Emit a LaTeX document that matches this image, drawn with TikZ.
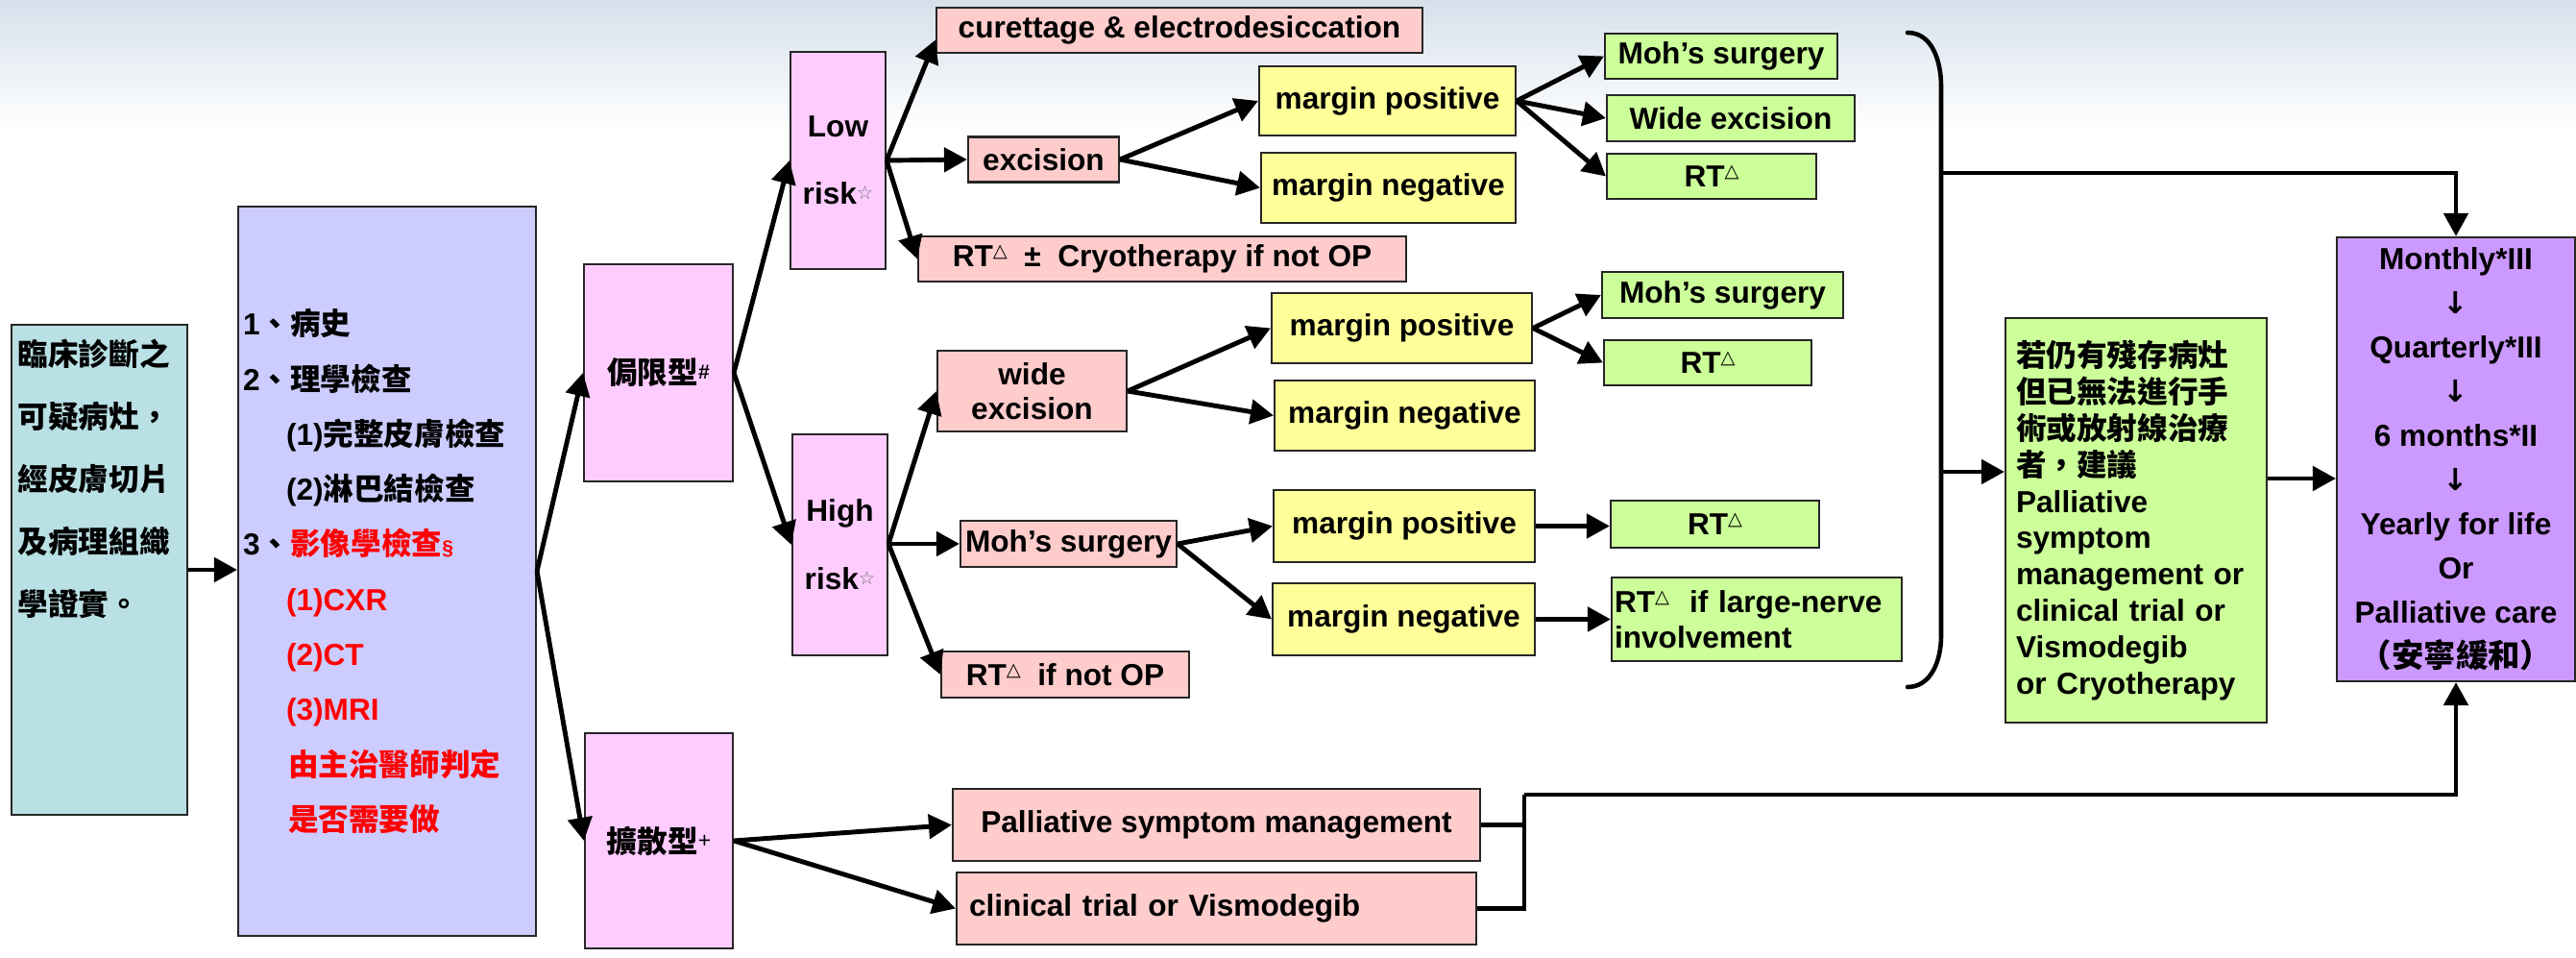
\documentclass[tikz,border=0pt]{standalone}
\usepackage{fontspec}
\setmainfont{Liberation Sans}
\newfontfamily\cjk{Noto Sans CJK TC}
\newfontfamily\dejavu{DejaVu Sans}
\usepackage{xcolor}
\usepackage{tikz}
\usetikzlibrary{calc}
\usetikzlibrary{positioning}
\usetikzlibrary{arrows.meta}

\definecolor{tealbg}{HTML}{B9E0E4}
\definecolor{lavbg}{HTML}{CCCCFF}
\definecolor{pinkbg}{HTML}{FFCCFF}
\definecolor{salmonbg}{HTML}{FFCCCC}
\definecolor{yellowbg}{HTML}{FFFF99}
\definecolor{greenbg}{HTML}{CCFF99}
\definecolor{violetbg}{HTML}{CC99FF}
\definecolor{skybg}{HTML}{D6E0EB}

\newcommand{\zh}[1]{{\cjk #1}}
\newcommand{\tri}{\raisebox{0.6ex}{\dejavu\mdseries\fontsize{5.5}{6}\selectfont △}}
\newcommand{\wstar}{\raisebox{0.3ex}{\textcolor{black!55}{\dejavu\mdseries\fontsize{5.5}{6}\selectfont ☆}}}

\begin{document}
\begin{tikzpicture}[
		box/.style={draw=black!85, line width=0.6pt, rectangle, inner sep=0pt, align=center,
			font=\fontsize{9}{10.8}\selectfont\bfseries},
		arrow/.style={-{Triangle[length=0.24cm,width=0.25cm]}, line width=1.4pt},
		wire/.style={line width=1.4pt},
		brace/.style={line width=1.3pt, line cap=round}
		]
		\useasboundingbox (0,0) rectangle (26.82,-9.97);
		
		% sky at the top
		\shade[top color=skybg, bottom color=white] (0,0) rectangle (26.82,-1.35);
		
		% diagnosis and work-up
		\node[box, fill=tealbg, minimum width=1.83cm, minimum height=5.10cm] (diag) at (1.035,-5.93) {};
		\node[anchor=north west, align=left, inner sep=0pt, font=\fontsize{9}{18.5}\selectfont\bfseries] (diagtext) at (0.18,-3.52)
			{\zh{臨床診斷之}\\\zh{可疑病灶，}\\\zh{經皮膚切片}\\\zh{及病理組織}\\\zh{學證實。}};
		\node[box, fill=lavbg, minimum width=3.10cm, minimum height=7.59cm, text width=3.0cm, inner xsep=0.05cm,
			align=left, font=\fontsize{9}{16.3}\selectfont\bfseries] (exam) at (4.03,-5.945)
			{1\zh{、病史}\\
			 2\zh{、理學檢查}\\
			 \hspace*{0.45cm}(1)\zh{完整皮膚檢查}\\
			 \hspace*{0.45cm}(2)\zh{淋巴結檢查}\\
			 3\zh{、}\textcolor{red}{\zh{影像學檢查}{\fontsize{6}{6}\selectfont§}}\\
			 \hspace*{0.45cm}\textcolor{red}{(1)CXR}\\
			 \hspace*{0.45cm}\textcolor{red}{(2)CT}\\
			 \hspace*{0.45cm}\textcolor{red}{(3)MRI}\\
			 \hspace*{0.47cm}\textcolor{red}{\zh{由主治醫師判定}}\\
			 \hspace*{0.47cm}\textcolor{red}{\zh{是否需要做}}};
		
		% type and risk
		\node[box, fill=pinkbg, minimum width=1.55cm, minimum height=2.26cm] (local) at (6.855,-3.88)
			{\zh{侷限型}\raisebox{0.3ex}{\fontsize{6}{6}\selectfont\#}};
		\node[box, fill=pinkbg, minimum width=1.54cm, minimum height=2.24cm] (diffuse) at (6.86,-8.75)
			{\zh{擴散型}\raisebox{0.3ex}{\mdseries\fontsize{6.5}{6}\selectfont+}};
		\node[box, fill=pinkbg, minimum width=0.99cm, minimum height=2.26cm, font=\fontsize{9}{19.9}\selectfont\bfseries] (low) at (8.725,-1.67)
			{Low\\risk\wstar};
		\node[box, fill=pinkbg, minimum width=0.99cm, minimum height=2.30cm, font=\fontsize{9}{20.2}\selectfont\bfseries] (high) at (8.745,-5.67)
			{High\\risk\wstar};
		
		% low risk branch
		\node[box, fill=salmonbg, minimum width=5.06cm, minimum height=0.47cm] (curet) at (12.28,-0.315) {curettage \& electrodesiccation};
		\node[box, fill=salmonbg, minimum width=1.57cm, minimum height=0.47cm] (exc) at (10.865,-1.66) {excision};
		\node[box, fill=salmonbg, minimum width=5.08cm, minimum height=0.47cm] (rtcryo) at (12.10,-2.695) {RT\tri\ \ ± \ Cryotherapy if not OP};
		\node[box, fill=yellowbg, minimum width=2.67cm, minimum height=0.72cm] (mp1) at (14.445,-1.05) {margin positive};
		\node[box, fill=yellowbg, minimum width=2.65cm, minimum height=0.73cm] (mn1) at (14.455,-1.955) {margin negative};
		\node[box, fill=greenbg, minimum width=2.42cm, minimum height=0.47cm] (moh1) at (17.92,-0.585) {Moh’s surgery};
		\node[box, fill=greenbg, minimum width=2.58cm, minimum height=0.48cm] (wide1) at (18.02,-1.23) {Wide excision};
		\node[box, fill=greenbg, minimum width=2.18cm, minimum height=0.47cm] (rt1) at (17.82,-1.835) {RT\tri};
		
		% high risk branch
		\node[box, fill=salmonbg, minimum width=1.97cm, minimum height=0.84cm, font=\fontsize{9}{10.3}\selectfont\bfseries] (wexc) at (10.745,-4.07) {wide\\excision};
		\node[box, fill=salmonbg, minimum width=2.25cm, minimum height=0.48cm] (moh2) at (11.125,-5.66) {Moh’s surgery};
		\node[box, fill=salmonbg, minimum width=2.58cm, minimum height=0.48cm] (rtnop) at (11.09,-7.02) {RT\tri\ \ if not OP};
		\node[box, fill=yellowbg, minimum width=2.71cm, minimum height=0.73cm] (mp2) at (14.595,-3.415) {margin positive};
		\node[box, fill=yellowbg, minimum width=2.71cm, minimum height=0.73cm] (mn2) at (14.625,-4.325) {margin negative};
		\node[box, fill=greenbg, minimum width=2.51cm, minimum height=0.48cm] (moh3) at (17.935,-3.07) {Moh’s surgery};
		\node[box, fill=greenbg, minimum width=2.16cm, minimum height=0.47cm] (rt2) at (17.78,-3.775) {RT\tri};
		\node[box, fill=yellowbg, minimum width=2.72cm, minimum height=0.75cm] (mp3) at (14.62,-5.475) {margin positive};
		\node[box, fill=yellowbg, minimum width=2.73cm, minimum height=0.75cm] (mn3) at (14.615,-6.445) {margin negative};
		\node[box, fill=greenbg, minimum width=2.17cm, minimum height=0.49cm] (rt3) at (17.855,-5.455) {RT\tri};
		\node[box, fill=greenbg, minimum width=3.02cm, minimum height=0.87cm, text width=2.96cm, inner xsep=0.03cm,
			align=left, font=\fontsize{9}{10.5}\selectfont\bfseries] (rtnerve) at (18.29,-6.445) {RT\tri\ \ if large-nerve\\involvement};
		
		% diffuse branch
		\node[box, fill=salmonbg, minimum width=5.49cm, minimum height=0.75cm] (pal) at (12.665,-8.585) {Palliative symptom management};
		\node[box, fill=salmonbg, minimum width=5.41cm, minimum height=0.75cm, text width=5.15cm, inner xsep=0.13cm, align=left] (clin) at (12.665,-9.455) {clinical trial or Vismodegib};
		
		% residual disease and follow-up
		\node[box, fill=greenbg, minimum width=2.72cm, minimum height=4.21cm, text width=2.50cm, inner xsep=0.11cm,
			align=left, font=\fontsize{9}{10.8}\selectfont\bfseries] (resid) at (22.24,-5.415)
			{\zh{若仍有殘存病灶}\\\zh{但已無法進行手}\\\zh{術或放射線治療}\\\zh{者，建議}\\
			 Palliative\\symptom\\management or\\clinical trial or\\Vismodegib\\or Cryotherapy};
		\node[box, fill=violetbg, minimum width=2.48cm, minimum height=4.62cm, font=\fontsize{9}{13.1}\selectfont\bfseries] (follow) at (25.57,-4.78)
			{Monthly*III\\{\dejavu ↓}\\Quarterly*III\\{\dejavu ↓}\\6 months*II\\{\dejavu ↓}\\
			 Yearly for life\\Or\\Palliative care\\{\cjk\fontsize{9.5}{13.1}\selectfont （安寧緩和）}};
		
		% arrows of the tree
		\draw[arrow] (diag.east) -- (diag.east -| exam.west);
		\draw[arrow] (exam.east) -- (local.west);
		\draw[arrow] (exam.east) -- (diffuse.west);
		\draw[arrow] (local.east) -- (low.west);
		\draw[arrow] (local.east) -- (high.west);
		
		\draw[arrow] (low.east) -- ([yshift=-0.1cm]curet.west);
		\draw[arrow] (low.east) -- (exc.west);
		\draw[arrow] (low.east) -- (rtcryo.west);
		\draw[arrow] (exc.east) -- (mp1.west);
		\draw[arrow] (exc.east) -- (mn1.west);
		\draw[arrow] (mp1.east) -- (moh1.west);
		\draw[arrow] (mp1.east) -- (wide1.west);
		\draw[arrow] (mp1.east) -- (rt1.west);
		
		\draw[arrow] (high.east |- moh2.west) -- (wexc.west);
		\draw[arrow] (high.east |- moh2.west) -- (moh2.west);
		\draw[arrow] (high.east |- moh2.west) -- (rtnop.west);
		\draw[arrow] (wexc.east) -- (mp2.west);
		\draw[arrow] (wexc.east) -- (mn2.west);
		\draw[arrow] (mp2.east) -- (moh3.west);
		\draw[arrow] (mp2.east) -- (rt2.west);
		\draw[arrow] (moh2.east) -- (mp3.west);
		\draw[arrow] (moh2.east) -- (mn3.west);
		\draw[arrow] (mp3.east) -- (mp3.east -| rt3.west);
		\draw[arrow] (mn3.east) -- (mn3.east -| rtnerve.west);
		
		\draw[arrow] (diffuse.east) -- (pal.west);
		\draw[arrow] (diffuse.east) -- (clin.west);
		
		% diffuse branch joins the follow-up
		\coordinate (join) at (15.87,-8.27);
		\draw[wire] (pal.east) -- (pal.east -| join);
		\draw[wire] (clin.east) -| (join);
		\draw[arrow] (join) -| (follow.south);
		
		% brace round the local results
		\draw[brace] (19.86,-0.34) to[out=0,in=90] (20.21,-0.90) -- (20.21,-6.62) to[out=-90,in=0] (19.86,-7.15);
		\coordinate (bracetop) at (20.21,-1.80);
		\coordinate (bracemid) at (20.21,-4.91);
		\draw[arrow] (bracetop) -| (follow.north);
		\draw[arrow] (bracemid) -- (bracemid -| resid.west);
		\draw[arrow] (resid.east |- 0,-4.98) -- (follow.west |- 0,-4.98);
		
	\end{tikzpicture}
\end{document}
